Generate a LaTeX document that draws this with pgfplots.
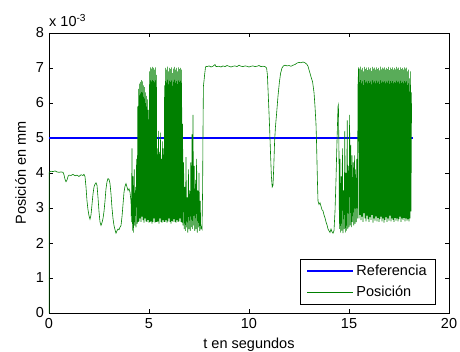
\documentclass[border=0pt]{standalone}
\usepackage{fontspec}
\setmainfont{Liberation Sans}
\usepackage{pgfplots}
\pgfplotsset{compat=1.18}
\definecolor{mgreen}{rgb}{0,0.5,0}
\begin{document}
\fontsize{14.5}{17}\selectfont
\begin{tikzpicture}
\begin{axis}[
  name=ax,
  at={(0pt,0pt)}, anchor=south west,
  scale only axis, width=400pt, height=280pt,
  xmin=0, xmax=20, ymin=0, ymax=8,
  xtick={0,5,10,15,20}, ytick={0,1,2,3,4,5,6,7,8},
  tick align=inside, major tick length=4pt,
  xtick pos=both, ytick pos=both,
  axis line style={line width=0.6pt},
  tick style={line width=0.6pt, black},
  /pgf/number format/assume math mode=true,
  xlabel={t en segundos}, ylabel={Posición en mm},
  legend cell align=left,
  legend style={at={(rel axis cs:0.966,0.0286)}, anchor=south east,
    draw=black, line width=0.6pt, inner xsep=6.5pt, inner ysep=4pt,
    row sep=4pt},
  legend image code/.code={\draw[#1] (0pt,0pt) -- (46pt,0pt);},
]
\addplot[blue, line width=2pt] coordinates {(0,5) (18.2,5)};
\addlegendentry{Referencia}
\addplot[mgreen, line width=0.6pt] coordinates {
(0,0) (0.005,4.02) (0.1,4.05) (0.2,4.04) (0.3,4.06) (0.4,4.03) (0.5,4.02) (0.6,4.03) (0.7,4.02) (0.75,3.95) (0.8,3.82) (0.85,3.75) (0.9,3.8) (0.95,3.9) (1.0,3.94) (1.1,3.93) (1.2,3.96) (1.3,3.92) (1.4,3.94) (1.5,3.9) (1.6,3.95) (1.7,3.93) (1.75,3.96) (1.8,3.9) (1.85,3.6) (1.9,3.2) (1.95,2.95) (2.0,2.78) (2.05,2.68) (2.1,2.8) (2.15,3.1) (2.2,3.4) (2.25,3.6) (2.3,3.68) (2.35,3.72) (2.4,3.65) (2.45,3.3) (2.5,2.9) (2.55,2.6) (2.6,2.5) (2.65,2.58) (2.7,2.7) (2.75,2.9) (2.8,3.2) (2.85,3.55) (2.9,3.75) (2.95,3.84) (3.0,3.82) (3.05,3.7) (3.1,3.4) (3.15,3.0) (3.2,2.7) (3.25,2.5) (3.3,2.38) (3.35,2.28) (3.4,2.35) (3.45,2.4) (3.5,2.38) (3.55,2.45) (3.6,2.5) (3.65,2.75) (3.7,3.1) (3.75,3.45) (3.8,3.62) (3.85,3.7) (3.9,3.6) (3.95,3.5) (4.0,3.55) (4.05,3.45) (4.1,3.2)
(4.12,2.6) (4.15,4.7) (4.18,2.35) (4.2,3.9) (4.23,2.3) (4.26,4.1) (4.29,2.5) (4.32,3.6) (4.35,2.45) (4.38,4.4) (4.41,2.55) (4.44,5.9) (4.46,2.6)
(4.48,6.4) (4.5,2.62) (4.53,6.55) (4.55,2.7) (4.58,6.6) (4.6,2.6) (4.63,6.65) (4.65,2.75) (4.68,6.62) (4.7,2.65) (4.73,6.5) (4.75,2.58) (4.78,6.45) (4.8,2.7) (4.83,6.3) (4.85,2.62) (4.88,6.2) (4.9,2.6) (4.93,6.1) (4.95,2.66) (4.98,5.8) (5.0,2.58) (5.03,6.9) (5.05,2.6)
(5.08,7.02) (5.1,2.62) (5.13,6.98) (5.15,2.55) (5.18,7.03) (5.2,2.6) (5.23,7.0) (5.25,2.7) (5.28,6.95) (5.3,2.58) (5.33,7.02) (5.35,2.6) (5.37,6.8)
(5.4,2.6) (5.42,4.7) (5.45,2.62) (5.48,5.2) (5.5,2.55) (5.53,4.6) (5.55,2.7) (5.58,5.15) (5.6,2.6) (5.63,4.4) (5.65,2.58) (5.68,4.9) (5.7,2.65) (5.73,4.7) (5.75,2.6) (5.78,6.5)
(5.8,2.6) (5.83,7.0) (5.85,2.65) (5.88,6.95) (5.9,2.58) (5.93,7.04) (5.95,2.62) (5.98,6.9) (6.0,2.7) (6.03,7.0) (6.05,2.6) (6.08,6.97) (6.1,2.55) (6.13,7.02) (6.15,2.63) (6.18,6.85) (6.2,2.6) (6.23,6.98) (6.25,2.68) (6.28,7.03) (6.3,2.6) (6.33,6.95) (6.35,2.58) (6.38,7.0) (6.4,2.65) (6.43,6.9) (6.45,2.6) (6.48,7.02) (6.5,2.62) (6.53,6.97) (6.55,2.7) (6.58,7.0) (6.6,2.6) (6.63,6.95) (6.65,2.58) (6.68,5.4)
(6.7,2.5) (6.73,4.3) (6.76,2.4) (6.79,3.6) (6.82,2.35) (6.85,4.45) (6.88,2.45) (6.91,3.3) (6.94,2.3) (6.97,4.1) (7.0,2.4) (7.03,3.5) (7.06,2.35) (7.09,4.3) (7.12,2.45) (7.15,5.1) (7.18,2.4) (7.2,5.66) (7.23,2.5) (7.26,4.2) (7.29,2.35) (7.32,3.8) (7.35,2.4) (7.38,4.4) (7.41,2.3) (7.44,3.5) (7.47,2.45) (7.5,4.0) (7.53,2.35) (7.56,3.2) (7.59,2.4) (7.62,2.45) (7.65,2.4)
(7.68,3.5) (7.7,5.2) (7.72,6.47) (7.78,6.8) (7.82,7.0) (7.85,7.05)
(7.9,7.04) (8.0,7.06) (8.1,7.03) (8.2,7.05) (8.3,7.1) (8.35,7.04) (8.5,7.05) (8.6,7.03) (8.7,7.06) (8.8,7.04) (8.9,7.07) (9.0,7.05) (9.1,7.03) (9.2,7.05) (9.3,7.06) (9.4,7.04) (9.5,7.08) (9.6,7.05) (9.7,7.04) (9.8,7.06) (9.9,7.05) (10.0,7.03) (10.1,7.05) (10.2,7.06) (10.3,7.04) (10.4,7.05) (10.5,7.07) (10.6,7.04) (10.7,7.05) (10.8,7.04) (10.88,7.0) (10.92,6.8) (10.98,6.0) (11.03,5.3) (11.08,4.5) (11.12,3.9) (11.16,3.6) (11.2,3.65) (11.24,4.2) (11.28,4.9) (11.32,5.3) (11.38,5.7) (11.45,6.2) (11.52,6.6) (11.58,6.85) (11.65,7.0) (11.72,7.06) (11.8,7.08) (11.9,7.06) (12.0,7.07) (12.1,7.05) (12.2,7.08) (12.3,7.1) (12.4,7.14) (12.5,7.16) (12.6,7.15) (12.7,7.17) (12.8,7.15) (12.9,7.1) (12.95,7.05) (13.0,6.95) (13.05,6.85) (13.1,6.75) (13.18,6.6) (13.25,6.3) (13.3,5.9) (13.35,5.4) (13.38,4.8) (13.42,3.8) (13.45,3.2) (13.5,3.1) (13.55,3.15) (13.6,3.05) (13.65,2.95) (13.7,2.92) (13.75,2.8) (13.8,2.72) (13.85,2.6) (13.9,2.52) (13.95,2.4) (14.0,2.35) (14.05,2.3) (14.1,2.4) (14.15,2.32) (14.2,2.28) (14.25,2.35) (14.3,2.9) (14.35,3.8) (14.38,4.5) (14.42,5.3) (14.45,5.9) (14.47,5.95) (14.5,4.5)
(14.52,2.4) (14.55,4.4) (14.58,2.3) (14.61,3.9) (14.64,2.35) (14.67,4.7) (14.7,2.28) (14.73,3.5) (14.76,2.4) (14.79,5.2) (14.82,2.3) (14.85,4.0) (14.88,2.35) (14.91,5.5) (14.94,2.4) (14.97,4.2) (15.0,2.45) (15.03,5.66) (15.06,2.5) (15.09,4.8) (15.12,2.45) (15.15,4.5) (15.18,2.6) (15.21,4.3) (15.24,2.5) (15.27,4.5) (15.3,2.55) (15.33,4.1) (15.36,2.6) (15.39,4.4) (15.42,2.7) (15.45,6.5)
(15.48,7.02) (15.5,2.7) (15.53,6.98) (15.55,2.8) (15.58,7.04) (15.6,2.65) (15.63,6.95) (15.65,2.75) (15.68,7.0) (15.7,2.6) (15.73,6.9) (15.75,2.85) (15.78,7.03) (15.8,2.7) (15.83,6.97) (15.85,2.62) (15.88,7.01) (15.9,2.78) (15.93,6.94) (15.95,2.68) (15.98,7.02) (16.0,2.6) (16.03,6.96) (16.05,2.74) (16.08,7.0) (16.1,2.66) (16.13,6.92) (16.15,2.8) (16.18,7.03) (16.2,2.58) (16.23,6.98) (16.25,2.7) (16.28,7.01) (16.3,2.64) (16.33,6.95) (16.35,2.76) (16.38,7.02) (16.4,2.62) (16.43,6.97) (16.45,2.72) (16.48,7.0) (16.5,2.6) (16.53,6.93) (16.55,2.68) (16.58,7.04) (16.6,2.75) (16.63,6.96) (16.65,2.62) (16.68,7.01) (16.7,2.7) (16.73,6.98) (16.75,2.58) (16.78,7.02) (16.8,2.66) (16.83,6.95) (16.85,2.74) (16.88,7.0) (16.9,2.6) (16.93,6.97) (16.95,2.7) (16.98,7.03) (17.0,2.64) (17.03,6.94) (17.05,2.78) (17.08,7.01) (17.1,2.62) (17.13,6.97) (17.15,2.7) (17.18,7.02) (17.2,2.66) (17.23,6.95) (17.25,2.6) (17.28,7.0) (17.3,2.72) (17.33,6.96) (17.35,2.64) (17.38,7.03) (17.4,2.7) (17.43,6.98) (17.45,2.62) (17.48,7.01) (17.5,2.68) (17.53,6.94) (17.55,2.75) (17.58,7.02) (17.6,2.6) (17.63,6.97) (17.65,2.7) (17.68,7.0) (17.7,2.66) (17.73,6.95) (17.75,2.72) (17.78,7.02) (17.8,2.62) (17.83,6.98) (17.85,2.7) (17.88,7.01) (17.9,2.64) (17.93,6.9) (17.95,2.68) (17.98,6.95) (18.0,2.62) (18.03,6.7) (18.05,2.7) (18.08,6.9) (18.1,2.9) (18.13,6.3)
};
\addlegendentry{Posición}
\end{axis}
\node[anchor=base west, inner sep=0pt] at ([yshift=6pt]ax.north west) {x 10\textsuperscript{-3}};
\pgfresetboundingbox
\path[use as bounding box] (-49pt,-39pt) rectangle (411pt,313pt);
\end{tikzpicture}
\end{document}
